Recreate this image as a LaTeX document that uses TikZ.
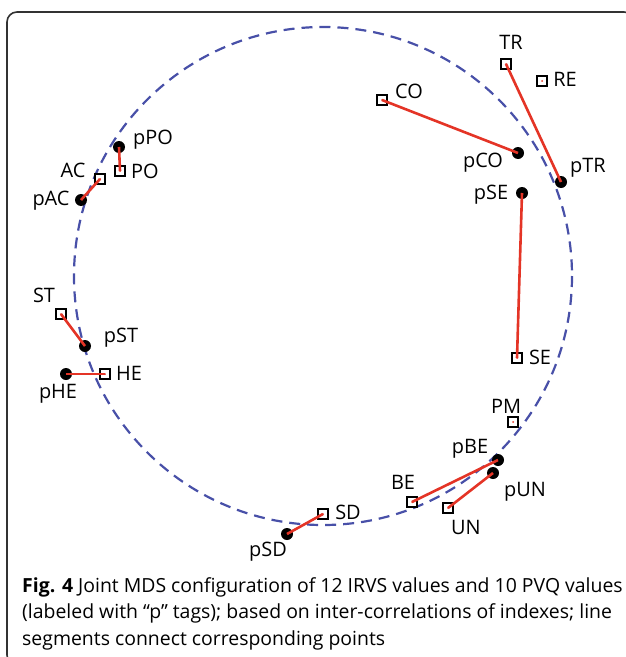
\documentclass[tikz,border=0pt]{standalone}
\usepackage{fontspec}
\setmainfont{Open Sans}
\definecolor{mdsred}{RGB}{228,52,38}
\definecolor{mdsblue}{RGB}{72,80,168}
\definecolor{framegray}{RGB}{50,50,50}
\begin{document}
\begin{tikzpicture}[x=1bp, y=-1bp,
		irvs/.style={rectangle, draw=black, fill=white, line width=1.8bp, minimum size=10bp, inner sep=0pt,
			path picture={\fill[mdsred] (path picture bounding box.center) circle (1bp);}},
		pvq/.style={circle, fill=black, minimum size=12bp, inner sep=0pt},
		lbl/.style={anchor=base, inner sep=0pt, font=\fontsize{20}{24}\selectfont},
		link/.style={mdsred, line width=2.6bp}]
			\useasboundingbox (0,0) rectangle (626,657);
			\draw[framegray, line width=1.6bp, rounded corners=10bp] (7,12) rectangle (634,665);
			% the unit circle of the MDS plot
			\draw[mdsblue, line width=2.2bp, dash pattern=on 11bp off 7bp]
				(323,276) circle [radius=249];
			\foreach \n/\x/\y in {TR/506/64, RE/542/81, CO/382/100, SE/517/358, PO/120/171,
				AC/100/179, ST/61/314, HE/105/374, PM/513/422, BE/412/502, UN/448/508, SD/323/514}
				\node[irvs] (\n) at (\x,\y) {};
			\foreach \n/\x/\y in {pCO/518/153, pTR/561/182, pSE/522/193, pPO/119/147, pAC/81/200,
				pST/85/346, pHE/66/374, pBE/498/460, pUN/493/473, pSD/287/534}
				\node[pvq] (\n) at (\x,\y) {};
			% red segments between corresponding points
			\foreach \a/\b in {TR/pTR, CO/pCO, SE/pSE, PO/pPO, AC/pAC, ST/pST, HE/pHE,
				BE/pBE, UN/pUN, SD/pSD}
				\draw[link] (\a.center) -- (\b.center);
			\foreach \n/\x/\y in {TR/511/50, RE/565/87, CO/409/99, pCO/483/167, pTR/588/172,
				pSE/491/199, SE/540/364, pPO/153/144, PO/145/178, AC/73/177, pAC/51/205,
				ST/44/302, pST/121/342, HE/129/380, pHE/58/398, PM/506/413, pBE/470/453,
				pUN/525/496, BE/403/489, UN/466/534, SD/348/519, pSD/268/556}
				\node[lbl] (l\n) at (\x,\y) {\n};
			\node[anchor=north west, inner sep=0pt, align=left, font=\fontsize{19.5}{27}\selectfont]
				(caption) at (22,577) {\textbf{Fig. 4} Joint MDS configuration of 12 IRVS values and 10 PVQ values\\
				(labeled with “p” tags); based on inter-correlations of indexes; line\\
				segments connect corresponding points};
		\end{tikzpicture}
\end{document}
